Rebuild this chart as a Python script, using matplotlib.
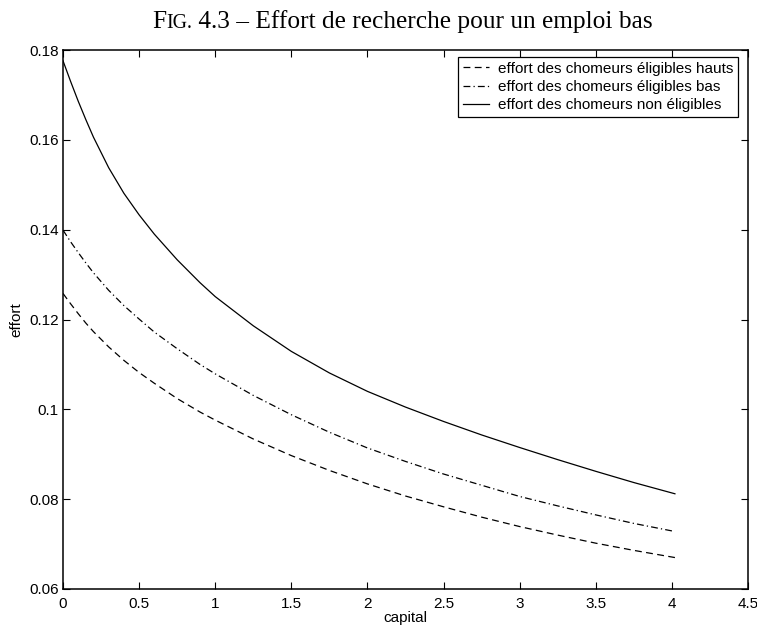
import matplotlib
matplotlib.use("Agg")
import matplotlib.pyplot as plt

plt.rcParams['font.family'] = ['Liberation Sans', 'DejaVu Sans']

# valeurs
capital = [0, 0.05, 0.1, 0.15, 0.2, 0.3, 0.4, 0.5, 0.6, 0.75, 0.9, 1.0, 1.25, 1.5,
           1.75, 2.0, 2.25, 2.5, 2.75, 3.0, 3.25, 3.5, 3.75, 4.02]
effort_haut = [0.1258, 0.1235, 0.1213, 0.1192, 0.1173, 0.1139, 0.1109, 0.1082,
               0.1058, 0.1024, 0.0994, 0.0976, 0.0934, 0.0897, 0.0864, 0.0834,
               0.0807, 0.0783, 0.0760, 0.0739, 0.0720, 0.0702, 0.0686, 0.0670]
effort_bas = [0.1399, 0.1373, 0.1349, 0.1326, 0.1304, 0.1265, 0.1231, 0.1201,
              0.1172, 0.1135, 0.1100, 0.1079, 0.1031, 0.0988, 0.0949, 0.0914,
              0.0884, 0.0856, 0.0831, 0.0806, 0.0785, 0.0765, 0.0746, 0.0728]
effort_non = [0.1776, 0.1730, 0.1686, 0.1645, 0.1606, 0.1538, 0.1481, 0.1433,
              0.1390, 0.1333, 0.1282, 0.1251, 0.1186, 0.1129, 0.1081, 0.1040,
              0.1005, 0.0973, 0.0943, 0.0915, 0.0888, 0.0862, 0.0837, 0.0812]

labels = ["effort des chomeurs éligibles hauts",
          "effort des chomeurs éligibles bas",
          "effort des chomeurs non éligibles"]

fig = plt.figure(figsize=(7.57, 6.27), dpi=100)
ax = fig.add_axes([63/757, 1 - 589/627, (748-63)/757, (589-50)/627])

ax.plot(capital, effort_haut, color='black', lw=0.9, dashes=(5.5, 3.5), label=labels[0])
ax.plot(capital, effort_bas, color='black', lw=0.9, dashes=(5.5, 2.5, 1, 2.5), label=labels[1])
ax.plot(capital, effort_non, color='black', lw=0.9, label=labels[2])

ax.set_xlim(0, 4.5)
ax.set_ylim(0.06, 0.18)
ax.set_xticks([0, 0.5, 1, 1.5, 2, 2.5, 3, 3.5, 4, 4.5])
ax.set_xticklabels(['0', '0.5', '1', '1.5', '2', '2.5', '3', '3.5', '4', '4.5'])
ax.set_yticks([0.06, 0.08, 0.1, 0.12, 0.14, 0.16, 0.18])
ax.set_yticklabels(['0.06', '0.08', '0.1', '0.12', '0.14', '0.16', '0.18'])
ax.tick_params(direction='in', length=5, width=0.8, top=True, right=True,
               labelsize=11, pad=3)
ax.tick_params(axis='x', pad=6)
for s in ax.spines.values():
    s.set_linewidth(1.1)

ax.set_xlabel('capital', fontsize=11, labelpad=0)
ax.set_ylabel('effort', fontsize=11, labelpad=4)

leg = ax.legend(loc='upper right', bbox_to_anchor=(0.9854, 0.987), fontsize=11,
                frameon=True, fancybox=False, edgecolor='black', framealpha=1,
                handlelength=1.7, handletextpad=0.6, labelspacing=0.28,
                borderpad=0.3, borderaxespad=0)
leg.get_frame().set_linewidth(0.9)

# titre en petites capitales
serif = ['Liberation Serif', 'DejaVu Serif']
r = fig.canvas.get_renderer()
parts = [("F", 18.3), ("IG.", 14.3), (" 4.3 – Effort de recherche pour un emploi bas", 18.3)]
texts = [fig.text(0, 1 - 28/627, p, fontsize=fs, family=serif, va='baseline') for p, fs in parts]
widths = [t.get_window_extent(r).width for t in texts]
x0 = (757 - sum(widths)) / 2 + 24
for t, w in zip(texts, widths):
    t.set_x(x0 / 757)
    x0 += w

fig.savefig('out.png', dpi=100)
